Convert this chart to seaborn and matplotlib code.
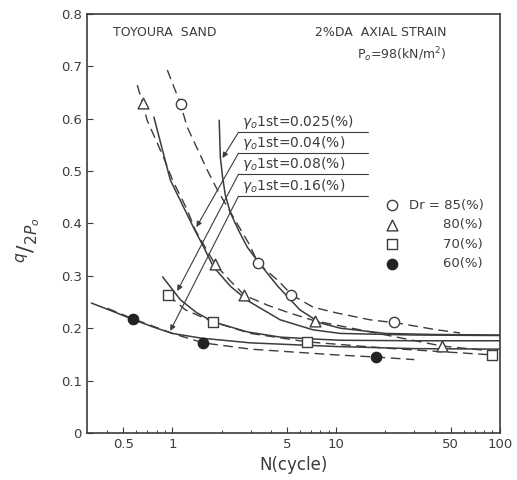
import numpy as np
import matplotlib
matplotlib.use("Agg")
import matplotlib.pyplot as plt
from matplotlib.ticker import FixedLocator, NullFormatter
import seaborn as sns

# measured points (N cycles, q/2P0)
n85 = [1.12, 3.34, 5.3, 22.7]
q85 = [0.628, 0.324, 0.263, 0.212]
n80 = [0.66, 1.82, 2.75, 7.4, 44]
q80 = [0.630, 0.322, 0.263, 0.214, 0.166]
n70 = [0.94, 1.77, 6.6, 90]
q70 = [0.263, 0.212, 0.174, 0.149]
n60 = [0.574, 1.54, 17.4]
q60 = [0.218, 0.172, 0.145]

# dashed curves (through points of same Dr)
d85_n = [0.93, 1.12, 1.23, 1.63, 1.88, 2.91, 3.34, 4.37, 5.39, 7.24, 10.1, 16.1, 23.5, 41, 57]
d85_q = [0.693, 0.628, 0.584, 0.502, 0.464, 0.363, 0.324, 0.292, 0.263, 0.240, 0.229, 0.216, 0.210, 0.197, 0.191]
d80_n = [0.61, 0.656, 0.70, 0.88, 1.0, 1.23, 1.38, 1.82, 2.26, 2.75, 3.8, 5.2, 7.4, 15, 44, 100]
d80_q = [0.664, 0.630, 0.597, 0.527, 0.483, 0.426, 0.387, 0.322, 0.290, 0.263, 0.244, 0.229, 0.214, 0.195, 0.166, 0.155]
d70_n = [0.94, 1.2, 1.77, 3.0, 6.6, 20, 90]
d70_q = [0.263, 0.235, 0.212, 0.190, 0.174, 0.162, 0.149]
d60_n = [0.40, 0.574, 1.0, 1.54, 3.0, 10, 17.4, 30]
d60_q = [0.238, 0.218, 0.190, 0.172, 0.160, 0.149, 0.145, 0.140]

# solid curves (constant first-cycle strain)
s85_n = [1.93, 1.96, 2.02, 2.1, 2.26, 2.55, 2.86, 3.39, 4.4, 6.0, 8.0, 10.6, 20, 40, 100]
s85_q = [0.597, 0.527, 0.490, 0.455, 0.420, 0.385, 0.355, 0.324, 0.280, 0.235, 0.210, 0.200, 0.190, 0.188, 0.187]
s80_n = [0.77, 0.97, 1.34, 1.55, 1.78, 2.26, 2.9, 4.55, 7.2, 10.6, 30, 100]
s80_q = [0.603, 0.483, 0.393, 0.355, 0.317, 0.280, 0.252, 0.216, 0.197, 0.190, 0.187, 0.186]
s70_n = [0.87, 1.12, 1.4, 1.78, 2.86, 4.55, 6.6, 10.6, 30, 100]
s70_q = [0.298, 0.254, 0.230, 0.212, 0.193, 0.183, 0.180, 0.177, 0.176, 0.176]
s60_n = [0.32, 0.45, 0.58, 0.8, 1.0, 1.5, 3.0, 10, 30, 100]
s60_q = [0.248, 0.230, 0.216, 0.200, 0.190, 0.181, 0.172, 0.165, 0.161, 0.160]

strain_labels = ["0.025", "0.04", "0.08", "0.16"]
xticks = [0.5, 1, 5, 10, 50, 100]
xtick_labels = ["0.5", "1", "5", "10", "50", "100"]
yticks = [0, 0.1, 0.2, 0.3, 0.4, 0.5, 0.6, 0.7, 0.8]
ytick_labels = ["0", "0.1", "0.2", "0.3", "0.4", "0.5", "0.6", "0.7", "0.8"]

sns.set_style("ticks")
plt.rcParams["font.family"] = ["DejaVu Sans"]
ink = "#3c3c3c"

fig = plt.figure(figsize=(5.17, 4.80), dpi=100)
ax = fig.add_axes([0.168, 0.098, 0.799, 0.873])
ax.set_xscale("log")

dash = (0, (7, 4))
for n, q in [(d85_n, d85_q), (d80_n, d80_q), (d70_n, d70_q), (d60_n, d60_q)]:
    sns.lineplot(x=n, y=q, sort=False, estimator=None, color=ink, lw=1.0,
                 linestyle=dash, ax=ax)
for n, q in [(s85_n, s85_q), (s80_n, s80_q), (s70_n, s70_q), (s60_n, s60_q)]:
    sns.lineplot(x=n, y=q, sort=False, estimator=None, color=ink, lw=1.1, ax=ax)

pad = " " * 8
sns.scatterplot(x=n85, y=q85, marker="o", s=55, facecolor="white",
                edgecolor=ink, linewidth=1.0, ax=ax, zorder=5, label="Dr = 85(%)")
sns.scatterplot(x=n80, y=q80, marker="^", s=60, facecolor="white",
                edgecolor=ink, linewidth=1.0, ax=ax, zorder=5, label=pad + "80(%)")
sns.scatterplot(x=n70, y=q70, marker="s", s=55, facecolor="white",
                edgecolor=ink, linewidth=1.0, ax=ax, zorder=5, label=pad + "70(%)")
sns.scatterplot(x=n60, y=q60, marker="o", s=55, color="#222222",
                edgecolor="#222222", linewidth=1.0, ax=ax, zorder=5, label=pad + "60(%)")

# strain labels with underline and arrow
label_y = [0.742, 0.692, 0.642, 0.589]
line_y = [0.574, 0.534, 0.494, 0.452]
heads = [(2.02, 0.525), (1.40, 0.393), (1.07, 0.271), (0.97, 0.195)]
for lab, ty, ly, hd in zip(strain_labels, label_y, line_y, heads):
    ax.text(0.375, ty, r"$\gamma_o$1st=" + lab + "(%)", transform=ax.transAxes,
            fontsize=10, color=ink, ha="left", va="center")
    ax.plot([2.53, 15.7], [ly, ly], color=ink, lw=0.8)
    ax.annotate("", xy=hd, xytext=(2.53, ly),
                arrowprops=dict(arrowstyle="-|>", color=ink, lw=0.8,
                                mutation_scale=8, shrinkA=0, shrinkB=0))

ax.text(0.063, 0.955, "TOYOURA  SAND", transform=ax.transAxes, fontsize=9,
        color=ink, ha="left", va="center")
ax.text(0.87, 0.955, "2%DA  AXIAL STRAIN", transform=ax.transAxes, fontsize=9,
        color=ink, ha="right", va="center")
ax.text(0.87, 0.902, r"P$_o$=98(kN/m$^2$)", transform=ax.transAxes, fontsize=9,
        color=ink, ha="right", va="center")

ax.legend(loc="upper left", bbox_to_anchor=(0.69, 0.575), frameon=False,
          fontsize=9.5, handletextpad=0.3, labelspacing=0.5, borderpad=0,
          labelcolor=ink)

ax.set_xlim(0.3, 100)
ax.set_ylim(0, 0.8)
ax.xaxis.set_major_locator(FixedLocator(xticks))
ax.set_xticklabels(xtick_labels)
ax.xaxis.set_minor_locator(FixedLocator(
    [0.4, 0.6, 0.7, 0.8, 0.9, 2, 3, 4, 6, 7, 8, 9, 20, 30, 40, 60, 70, 80, 90]))
ax.xaxis.set_minor_formatter(NullFormatter())
ax.set_yticks(yticks)
ax.set_yticklabels(ytick_labels)
ax.tick_params(axis="both", which="major", direction="in", length=4,
               labelsize=9.5, colors=ink, width=0.8)
ax.tick_params(axis="x", which="minor", direction="in", length=2.5,
               colors=ink, width=0.7)
for sp in ax.spines.values():
    sp.set_color(ink)
    sp.set_linewidth(1.2)

ax.set_xlabel("N(cycle)", fontsize=12, color=ink, labelpad=4)
ax.set_ylabel(r"$^{q}/_{2P_o}$", fontsize=16, color=ink, labelpad=10)
ax.yaxis.set_label_coords(-0.105, 0.46)

fig.savefig("out.png", dpi=100)
